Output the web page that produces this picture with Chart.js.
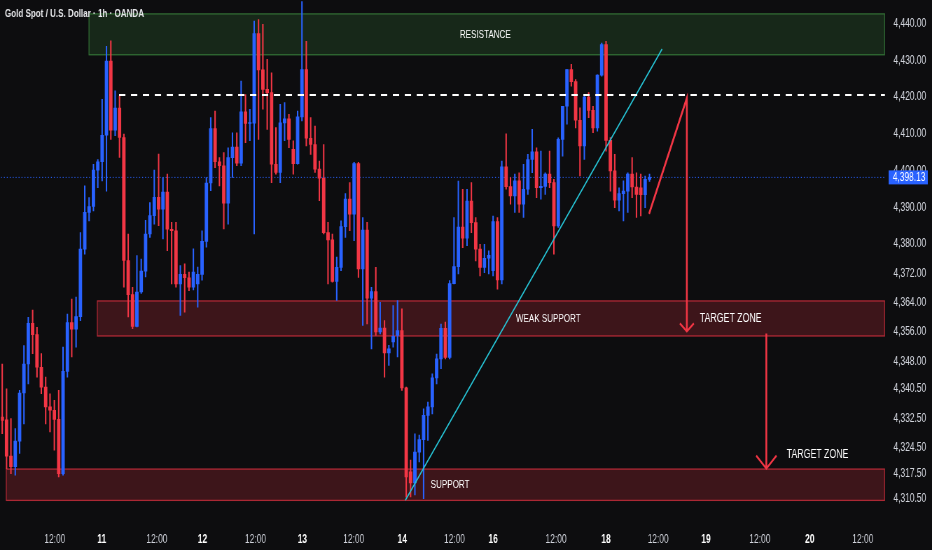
<!DOCTYPE html>
<html>
<head>
<meta charset="utf-8">
<title>Gold Spot / U.S. Dollar 1h</title>
<script src="https://cdn.jsdelivr.net/npm/chart.js@4.4.1/dist/chart.umd.min.js"></script>
<style>
  html, body { margin: 0; padding: 0; width: 932px; height: 550px; overflow: hidden; background: #0d0d0f; }
  /* the screenshot is horizontally squeezed, so the chart is drawn wider and squeezed the same way */
  #wrap { position: absolute; left: 0; top: 0; width: 1331px; height: 550px; transform: scaleX(0.70023); transform-origin: 0 0; }
</style>
</head>
<body>
<div id="wrap"><canvas id="gold-1h"></canvas></div>
<script>
// Hourly candles (index 0 = first visible candle)
const candleOpen = [
  4332.8, 4332.1, 4322.2, 4319.3, 4326.3, 4339.4, 4347.3, 4358.4, 4355.3, 4346.4,
  4341.0, 4335.6, 4334.7, 4332.2, 4317.4, 4345.3, 4358.6, 4356.8, 4360.2, 4378.6,
  4388.6, 4390.2, 4400.1, 4402.4, 4409.6, 4429.8, 4411.0, 4417.0, 4409.0, 4375.5,
  4366.2, 4357.5, 4366.9, 4372.6, 4382.7, 4387.7, 4392.7, 4389.5, 4394.1, 4384.0,
  4383.6, 4369.1, 4371.7, 4370.8, 4368.2, 4369.1, 4371.7, 4380.7, 4396.6, 4411.4,
  4402.4, 4401.3, 4391.1, 4403.5, 4406.4, 4402.0, 4416.0, 4412.8, 4412.9, 4437.3,
  4427.4, 4422.1, 4421.2, 4401.7, 4399.5, 4413.0, 4414.1, 4405.8, 4401.9, 4414.6,
  4427.5, 4408.8, 4407.1, 4400.4, 4397.9, 4383.1, 4381.1, 4369.8, 4373.6, 4384.7,
  4392.2, 4388.1, 4401.9, 4373.2, 4383.8, 4365.2, 4367.0, 4356.0, 4357.1, 4350.3,
  4353.3, 4355.1, 4356.4, 4340.8, 4317.9, 4314.9, 4323.3, 4326.7, 4333.3, 4335.6,
  4343.5, 4348.7, 4357.0, 4349.1, 4369.2, 4373.8, 4384.6, 4381.6, 4391.7, 4385.8,
  4378.6, 4373.6, 4376.1, 4372.7, 4386.1, 4370.2, 4401.0, 4395.6, 4393.1, 4397.2,
  4390.8, 4394.9, 4403.0, 4405.1, 4395.3, 4395.7, 4399.0, 4396.7, 4384.9, 4408.5,
  4417.5, 4427.5, 4424.2, 4413.7, 4406.7, 4420.0, 4416.4, 4411.6, 4426.0, 4434.3,
  4408.2, 4399.9, 4391.9, 4393.7, 4394.4, 4399.0, 4395.5, 4395.3, 4393.4, 4397.6
];
const candleHigh = [
  4347.3, 4340.5, 4332.4, 4329.7, 4340.1, 4352.3, 4360.0, 4362.0, 4357.3, 4350.1,
  4343.7, 4339.2, 4337.4, 4340.1, 4351.9, 4360.9, 4365.0, 4365.5, 4383.1, 4395.8,
  4392.6, 4401.7, 4403.0, 4419.4, 4433.8, 4435.3, 4421.7, 4420.3, 4409.9, 4382.7,
  4368.2, 4376.8, 4375.9, 4386.4, 4391.3, 4400.1, 4404.5, 4398.1, 4399.0, 4385.9,
  4385.9, 4374.1, 4374.6, 4372.3, 4378.7, 4373.7, 4383.6, 4398.1, 4414.4, 4416.2,
  4403.5, 4404.9, 4406.2, 4410.3, 4410.3, 4424.4, 4420.7, 4416.7, 4440.7, 4441.1,
  4439.8, 4430.3, 4426.6, 4411.7, 4418.0, 4418.5, 4415.3, 4408.1, 4416.2, 4447.5,
  4435.2, 4414.4, 4412.1, 4402.6, 4407.1, 4385.9, 4382.7, 4376.4, 4386.3, 4393.7,
  4396.7, 4402.2, 4402.2, 4387.2, 4385.9, 4368.2, 4373.6, 4364.1, 4359.1, 4352.4,
  4363.2, 4364.6, 4362.3, 4341.0, 4321.1, 4328.3, 4327.9, 4335.1, 4336.9, 4344.6,
  4350.0, 4358.2, 4358.7, 4370.0, 4387.2, 4397.1, 4394.9, 4394.9, 4396.7, 4387.2,
  4379.9, 4379.9, 4378.1, 4387.6, 4387.2, 4402.6, 4410.0, 4398.1, 4399.0, 4399.4,
  4401.7, 4404.4, 4411.2, 4406.2, 4405.3, 4399.4, 4405.3, 4397.6, 4408.9, 4417.5,
  4427.5, 4428.9, 4424.8, 4417.1, 4420.7, 4421.2, 4417.5, 4426.1, 4434.7, 4435.2,
  4409.0, 4404.4, 4395.3, 4397.2, 4399.4, 4403.5, 4399.4, 4399.0, 4398.5, 4399.0
];
const candleLow = [
  4328.3, 4318.8, 4317.4, 4317.0, 4322.9, 4331.0, 4341.9, 4350.1, 4343.7, 4339.2,
  4331.0, 4328.8, 4323.8, 4316.5, 4317.0, 4343.7, 4349.2, 4351.9, 4359.1, 4377.2,
  4386.3, 4389.0, 4395.3, 4397.2, 4394.4, 4408.5, 4409.5, 4403.6, 4368.2, 4360.1,
  4356.9, 4357.4, 4366.5, 4371.0, 4381.8, 4385.4, 4385.0, 4381.4, 4378.2, 4369.1,
  4368.2, 4360.5, 4361.4, 4367.3, 4367.5, 4362.8, 4370.1, 4379.1, 4394.5, 4400.8,
  4395.8, 4384.1, 4385.4, 4398.1, 4401.3, 4401.3, 4407.6, 4408.1, 4382.7, 4408.5,
  4416.7, 4411.2, 4396.7, 4399.0, 4396.7, 4408.1, 4406.2, 4399.0, 4401.7, 4413.5,
  4406.7, 4404.4, 4399.5, 4391.8, 4382.7, 4369.1, 4369.6, 4364.6, 4372.7, 4381.8,
  4383.6, 4380.9, 4370.9, 4357.8, 4358.2, 4351.4, 4355.1, 4355.5, 4343.7, 4346.9,
  4351.9, 4349.2, 4340.1, 4311.0, 4311.1, 4311.6, 4320.6, 4310.6, 4326.5, 4333.7,
  4341.9, 4346.0, 4348.7, 4348.7, 4369.1, 4371.8, 4379.0, 4379.5, 4383.1, 4375.4,
  4371.3, 4372.2, 4371.8, 4371.3, 4367.7, 4369.1, 4394.9, 4390.8, 4388.6, 4388.6,
  4387.2, 4393.5, 4399.4, 4392.6, 4392.2, 4393.5, 4395.3, 4377.2, 4384.5, 4403.9,
  4412.6, 4423.0, 4411.6, 4398.5, 4403.0, 4414.4, 4410.3, 4410.7, 4425.7, 4405.3,
  4394.4, 4389.9, 4389.0, 4386.3, 4388.6, 4392.6, 4387.2, 4387.6, 4389.9, 4397.0
];
const candleClose = [
  4331.9, 4322.2, 4319.3, 4326.3, 4339.4, 4347.3, 4358.4, 4355.3, 4346.4, 4341.0,
  4335.6, 4334.7, 4332.2, 4317.4, 4345.3, 4358.6, 4356.8, 4360.2, 4378.6, 4388.6,
  4390.2, 4400.1, 4402.4, 4409.6, 4429.8, 4411.0, 4417.0, 4409.0, 4375.5, 4366.2,
  4357.5, 4366.9, 4372.6, 4382.7, 4387.7, 4392.7, 4389.5, 4394.1, 4384.0, 4383.6,
  4369.1, 4371.7, 4370.8, 4368.2, 4372.3, 4371.7, 4380.7, 4396.6, 4411.4, 4402.4,
  4401.3, 4391.1, 4403.5, 4406.4, 4402.0, 4416.0, 4412.8, 4412.9, 4437.3, 4427.4,
  4422.1, 4421.2, 4401.7, 4399.5, 4413.0, 4414.1, 4408.5, 4401.9, 4414.6, 4427.5,
  4408.8, 4407.1, 4400.4, 4397.9, 4383.1, 4381.1, 4369.8, 4373.6, 4384.7, 4392.2,
  4388.1, 4401.9, 4373.2, 4383.8, 4365.2, 4367.0, 4356.0, 4357.1, 4350.3, 4351.4,
  4354.8, 4356.4, 4340.8, 4316.5, 4314.9, 4323.3, 4326.7, 4333.3, 4335.6, 4343.5,
  4348.7, 4357.0, 4349.1, 4369.2, 4373.8, 4384.6, 4381.6, 4391.7, 4385.8, 4378.6,
  4373.6, 4376.1, 4376.9, 4386.1, 4370.2, 4401.0, 4395.6, 4393.1, 4397.2, 4390.8,
  4394.9, 4403.0, 4405.1, 4395.3, 4395.7, 4399.0, 4396.7, 4384.9, 4408.5, 4417.5,
  4427.5, 4424.2, 4413.7, 4406.7, 4420.0, 4416.4, 4411.6, 4426.0, 4434.3, 4408.2,
  4399.9, 4391.9, 4393.7, 4394.4, 4399.0, 4395.5, 4393.5, 4393.4, 4397.6, 4398.13
];
const lastPrice = 4398.13;

// Time axis labels (positions in candle units)
const xTickPositions = [12.1, 22.9, 35.6, 46.1, 58.3, 69.1, 80.9, 92.1, 104.1, 113.0, 127.5, 139.0, 151.0, 162.0, 174.4, 185.9, 198.1];
const xTickLabels = ['12:00', '11', '12:00', '12', '12:00', '13', '12:00', '14', '12:00', '16', '12:00', '18', '12:00', '19', '12:00', '20', '12:00'];
// Price axis labels
const yTickValues = [4440, 4430, 4420, 4410, 4400, 4390, 4380, 4372, 4364, 4356, 4348, 4340.5, 4332.5, 4324.5, 4317.5, 4310.5];

// Drawn zones
const zoneNames = ['RESISTANCE', 'WEAK SUPPORT', 'SUPPORT'];
const zoneLeft = [19.9, 21.8, 0.85];
const zoneTop = [4442.8, 4364.6, 4318.8];
const zoneBottom = [4431.4, 4354.8, 4310.0];
const zoneLabelX = [111.2, 125.7, 103.1];
const zoneRight = 203.2;

// Trend line, level and arrows
const trendX = [92.8, 151.9];
const trendY = [4310.2, 4433.1];
const levelDashY = 4420.6;
const levelDashStart = 26.9;
const pathX = [148.9, 157.6, 157.6];
const pathY = [4388.2, 4419.7, 4356.2];
const arrow2X = [175.9, 175.9];
const arrow2Y = [4355.6, 4318.8];
const targetLabelX = [167.7, 187.7];
const targetLabelY = [4359.6, 4322.5];

const X_MIN = -0.3;
const X_MAX = 203.4;

const bgColor = '#0d0d0f';
const upColor = '#2962ff';
const downColor = '#f23645';
const textColor = '#d1d4dc';
const uiFont = "'Liberation Sans', Arial, sans-serif";

Chart.defaults.font.family = uiFont;

const candleColors = candleClose.map((c, i) => (c >= candleOpen[i] ? upColor : downColor));
const wickData = candleHigh.map((h, i) => ({ x: i, y: [candleLow[i], h] }));
const bodyData = candleOpen.map((o, i) => ({ x: i, y: [o, candleClose[i]] }));
const toPoints = (xs, ys) => xs.map((x, i) => ({ x, y: ys[i] }));

// day numbers are bold, hour labels are not
const isDayTick = (ctx) => {
  const label = ctx && ctx.index !== undefined ? xTickLabels[ctx.index] : undefined;
  return label !== undefined && !label.includes(':');
};

const lineSet = (data, color, width, dash) => ({
  type: 'line',
  data,
  borderColor: color,
  borderWidth: width,
  borderDash: dash || [],
  pointRadius: 0,
  tension: 0,
  fill: false,
});

const drawingsPlugin = {
  id: 'drawings',
  beforeDatasetsDraw(c) {
    const { ctx, scales: { x, y } } = c;
    ctx.save();
    zoneNames.forEach((name, i) => {
      const left = x.getPixelForValue(zoneLeft[i]);
      const right = x.getPixelForValue(zoneRight);
      const top = y.getPixelForValue(zoneTop[i]);
      const bottom = y.getPixelForValue(zoneBottom[i]);
      const green = i === 0;
      ctx.fillStyle = green ? 'rgba(76, 175, 80, 0.17)' : 'rgba(242, 54, 69, 0.21)';
      ctx.strokeStyle = green ? 'rgba(76, 175, 80, 0.5)' : 'rgba(242, 54, 69, 0.62)';
      ctx.lineWidth = 1.3;
      ctx.fillRect(left, top, right - left, bottom - top);
      ctx.strokeRect(left + 0.5, top + 0.5, right - left - 1, bottom - top - 1);
    });
    ctx.restore();
  },
  afterDatasetsDraw(c) {
    const { ctx, scales: { x, y } } = c;
    ctx.save();
    // arrow heads [tip x, tip y, half width, height]
    ctx.strokeStyle = downColor;
    ctx.lineWidth = 2.2;
    [[pathX[2], pathY[2], 10, 8], [arrow2X[1], arrow2Y[1], 14.5, 13]].forEach(([ax, ay, hw, hh]) => {
      const px = x.getPixelForValue(ax);
      const py = y.getPixelForValue(ay);
      ctx.beginPath();
      ctx.moveTo(px - hw, py - hh);
      ctx.lineTo(px, py);
      ctx.lineTo(px + hw, py - hh);
      ctx.stroke();
    });
    // zone + target labels
    ctx.fillStyle = '#ffffff';
    ctx.textAlign = 'center';
    ctx.textBaseline = 'middle';
    ctx.font = `11.5px ${uiFont}`;
    zoneNames.forEach((name, i) => {
      const midY = (y.getPixelForValue(zoneTop[i]) + y.getPixelForValue(zoneBottom[i])) / 2;
      ctx.fillText(name, x.getPixelForValue(zoneLabelX[i]), midY);
    });
    ctx.font = `12.5px ${uiFont}`;
    targetLabelX.forEach((tx, i) => {
      ctx.fillText('TARGET ZONE', x.getPixelForValue(tx), y.getPixelForValue(targetLabelY[i]));
    });
    ctx.restore();
  },
  afterDraw(c) {
    const { ctx, chartArea, scales: { y } } = c;
    ctx.save();
    // symbol title
    ctx.fillStyle = '#e4e5e8';
    ctx.font = `bold 11.5px ${uiFont}`;
    ctx.textAlign = 'left';
    ctx.textBaseline = 'middle';
    ctx.fillText('Gold Spot / U.S. Dollar · 1h · OANDA', 7, 14);
    // last price tag
    const py = y.getPixelForValue(lastPrice);
    ctx.fillStyle = upColor;
    ctx.fillRect(chartArea.right + 4, py - 7, 56, 14);
    ctx.fillStyle = '#ffffff';
    ctx.font = `12px ${uiFont}`;
    ctx.fillText(lastPrice.toLocaleString('en-US', { minimumFractionDigits: 2 }), chartArea.right + 10, py + 0.5);
    ctx.restore();
  },
};

const bgPlugin = {
  id: 'bg',
  beforeDraw(c) {
    const { ctx } = c;
    ctx.save();
    ctx.fillStyle = bgColor;
    ctx.fillRect(0, 0, c.width, c.height);
    ctx.restore();
  },
};

new Chart(document.getElementById('gold-1h'), {
  type: 'bar',
  data: {
    datasets: [
      // wicks
      {
        data: wickData,
        backgroundColor: candleColors,
        barThickness: 1.4,
        grouped: false,
        order: 3,
      },
      // bodies
      {
        data: bodyData,
        backgroundColor: candleColors,
        barThickness: 4.2,
        minBarLength: 1,
        grouped: false,
        order: 2,
      },
      { ...lineSet([{ x: X_MIN, y: lastPrice }, { x: X_MAX, y: lastPrice }], upColor, 1, [1.4, 2.8]), order: 4 },
      { ...lineSet([{ x: levelDashStart, y: levelDashY }, { x: zoneRight, y: levelDashY }], '#ffffff', 2, [9, 8]), order: 1 },
      { ...lineSet(toPoints(trendX, trendY), '#27c4d6', 1.6), order: 1 },
      { ...lineSet(toPoints(pathX, pathY), downColor, 2.6), order: 1 },
      { ...lineSet(toPoints(arrow2X, arrow2Y), downColor, 2.6), order: 1 },
    ],
  },
  options: {
    responsive: true,
    maintainAspectRatio: false,
    animation: false,
    layout: { padding: 0 },
    scales: {
      x: {
        type: 'linear',
        min: X_MIN,
        max: X_MAX,
        offset: false,
        grid: { display: false, drawTicks: false },
        border: { display: false },
        afterBuildTicks: (scale) => {
          scale.ticks = xTickPositions.map((v) => ({ value: v }));
        },
        afterFit: (scale) => {
          scale.height = 28;
          scale.paddingLeft = 0;
          scale.paddingRight = 0;
        },
        ticks: {
          autoSkip: false,
          maxRotation: 0,
          padding: 10,
          color: (ctx) => (isDayTick(ctx) ? '#ffffff' : textColor),
          font: (ctx) => ({ size: 12, weight: isDayTick(ctx) ? 'bold' : 'normal' }),
          callback: (value, index) => xTickLabels[index],
        },
      },
      y: {
        position: 'right',
        min: 4304.25,
        max: 4446.1,
        grid: { display: false, drawTicks: false },
        border: { display: false },
        afterBuildTicks: (scale) => {
          scale.ticks = yTickValues.map((v) => ({ value: v }));
        },
        afterFit: (scale) => {
          scale.width = 66;
          scale.paddingTop = 0;
          scale.paddingBottom = 0;
        },
        ticks: {
          padding: 11,
          color: textColor,
          font: { size: 12 },
          callback: (value) => value.toLocaleString('en-US', { minimumFractionDigits: 2, maximumFractionDigits: 2 }),
        },
      },
    },
    plugins: {
      legend: { display: false },
      tooltip: { enabled: false },
    },
  },
  plugins: [bgPlugin, drawingsPlugin],
});
</script>
</body>
</html>
